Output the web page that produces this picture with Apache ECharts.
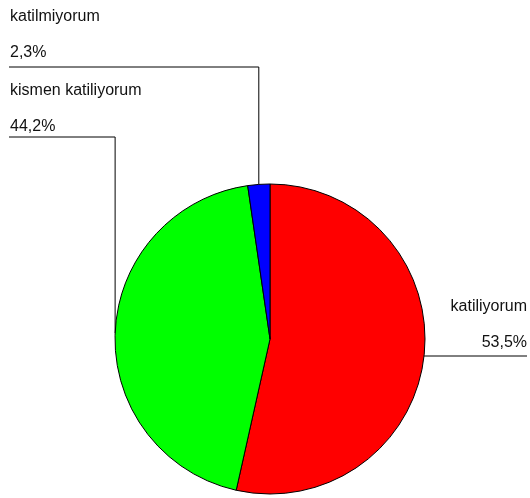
<!DOCTYPE html>
<html>
<head>
<meta charset="utf-8">
<script src="https://cdn.jsdelivr.net/npm/echarts@6/dist/echarts.min.js"></script>
<style>
  html, body { margin: 0; padding: 0; background: #fff; }
  #chart { width: 530px; height: 498px; }
</style>
</head>
<body>
<div id="chart"></div>
<script>
// 数据
var categories = ['katiliyorum', 'kismen katiliyorum', 'katilmiyorum'];
var values = [53.5, 44.2, 2.3];
var colors = ['#ff0000', '#00ff00', '#0000ff'];

var chart = echarts.init(document.getElementById('chart'));

// 标签位置（按数据序号）
var labelPos = [
  { x: 527, y: 325, align: 'right', lineY: null, endX: 527 },
  { x: 10, y: 109, align: 'left', lineY: 137, endX: 9 },
  { x: 10, y: 35, align: 'left', lineY: 67, endX: 9 }
];

var option = {
  animation: false,
  backgroundColor: '#fff',
  series: [
    {
      type: 'pie',
      center: [270, 339],
      radius: 155,
      startAngle: 90,
      clockwise: true,
      avoidLabelOverlap: false,
      itemStyle: { borderColor: '#000', borderWidth: 1 },
      label: {
        show: true,
        position: 'outside',
        fontFamily: 'Liberation Sans, Arial, sans-serif',
        fontSize: 16,
        color: '#111',
        lineHeight: 36,
        formatter: function(p) {
          return p.name + '\n' + p.value.toFixed(1).replace('.', ',') + '%';
        }
      },
      labelLine: {
        show: true,
        smooth: false,
        length: 10,
        length2: 10,
        lineStyle: { color: '#000', width: 1 }
      },
      labelLayout: function(params) {
        var pos = labelPos[params.dataIndex];
        var pts = params.labelLinePoints;
        var edge = pts[0];
        var linePts;
        if (pos.lineY === null) {
          linePts = [edge, [edge[0] + 1, edge[1]], [pos.endX, edge[1]]];
        } else {
          linePts = [edge, [edge[0], pos.lineY], [pos.endX, pos.lineY]];
        }
        return {
          x: pos.x,
          y: pos.y,
          align: pos.align,
          verticalAlign: 'middle',
          labelLinePoints: linePts
        };
      },
      data: categories.map(function(name, i) {
        return { name: name, value: values[i], itemStyle: { color: colors[i] } };
      })
    }
  ]
};

chart.setOption(option);
</script>
</body>
</html>
